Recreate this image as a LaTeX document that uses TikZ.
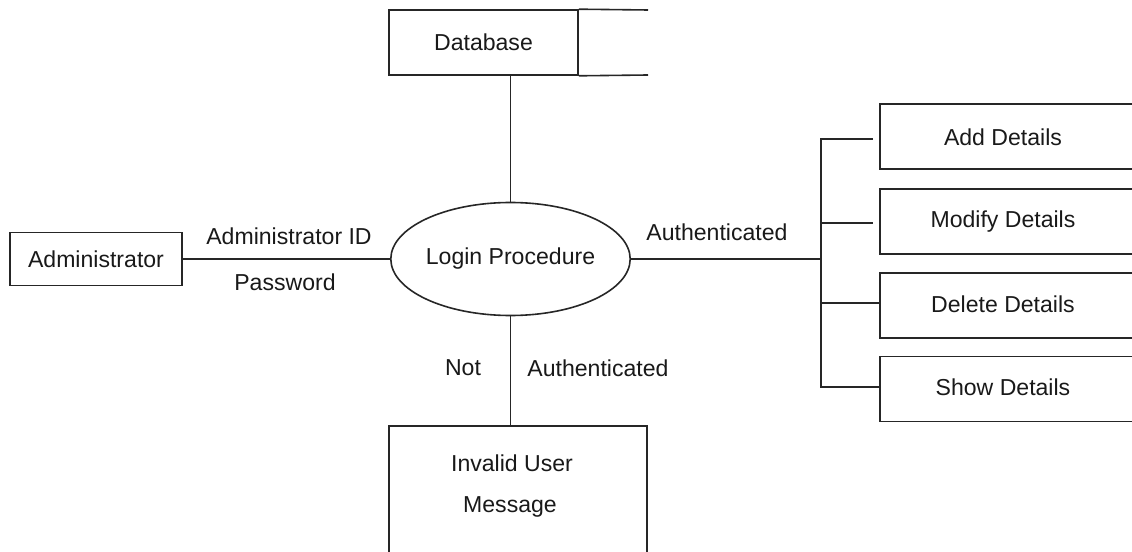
\documentclass[tikz,border=0pt]{standalone}
\usepackage{fontspec}
\setmainfont{Liberation Sans}
\usetikzlibrary{shapes.geometric}
\begin{document}
\begin{tikzpicture}[x=0.75pt,y=-0.75pt,
  every node/.style={font=\fontsize{17.3}{20}\selectfont, inner sep=0pt},
  ln/.style={line width=1.2pt, draw=black!85},
  box/.style={ln, draw, rectangle},
  txt/.style={text=black!90}]
\useasboundingbox (0,0) rectangle (1132,552);
% Administrator
\node[box, minimum width=129pt, minimum height=39.75pt, txt] (admin) at (96,259) {Administrator};
% Database (data store, open right)
\node[box, minimum width=141.75pt, minimum height=48.75pt, txt] (db) at (483.5,42.5) {Database};
\coordinate (dbne) at (648,10);
\coordinate (dbse) at (648,75);
\draw[ln] (db.north east) -- (dbne);
\draw[ln] (db.south east) -- (dbse);
% Login
\node[ln, draw, ellipse, minimum width=177.75pt, minimum height=84.75pt, txt] (login) at (510.5,259) {Login Procedure};
% Invalid user message box (open bottom)
\coordinate (invtl) at (389,426);
\coordinate (invtr) at (647,426);
\coordinate (invbl) at (389,560);
\coordinate (invbr) at (647,560);
\draw[ln] (invbl) -- (invtl) -- (invtr) -- (invbr);
\node[txt] (inv1) at (512,463) {Invalid User};
\node[txt] (inv2) at (510,507) {Message};
% Right boxes (open right)
\foreach \n/\y/\t/\ty in {add/136.5/Add Details/137, mod/221.5/Modify Details/222, del/305.5/Delete Details/304, show/389/Show Details/387}{
  \node[box, minimum width=202.5pt, minimum height=48.75pt, anchor=west] (\n) at (879,\y) {};
  \node[txt] (\n t) at (1003,\ty) {\t};
}
% connectors
\draw[ln] (admin.east) -- (login.west);
\draw[ln] (login.north) -- (login.north |- db.south);
\draw[ln] (login.south) -- (login.south |- invtl);
\coordinate (trunk) at (821,259);
\coordinate (ttop) at (821,139);
\coordinate (tbot) at (821,387);
\coordinate (addend) at (873,139);
\coordinate (modend) at (873,223);
\draw[ln] (login.east) -- (trunk);
\draw[ln] (addend) -- (ttop) -- (tbot) -- (show.west |- tbot);
\draw[ln] (ttop |- modend) -- (modend);
\draw[ln] (821,303) -- (del.west |- 0,303);
% labels
\node[txt] (lid) at (289,236) {Administrator ID};
\node[txt] (lpw) at (285,282) {Password};
\node[txt] (lauth) at (717,232) {Authenticated};
\node[txt] (lnot) at (463,368) {Not};
\node[txt] (lauth2) at (598,368) {Authenticated};
\end{tikzpicture}
\end{document}
